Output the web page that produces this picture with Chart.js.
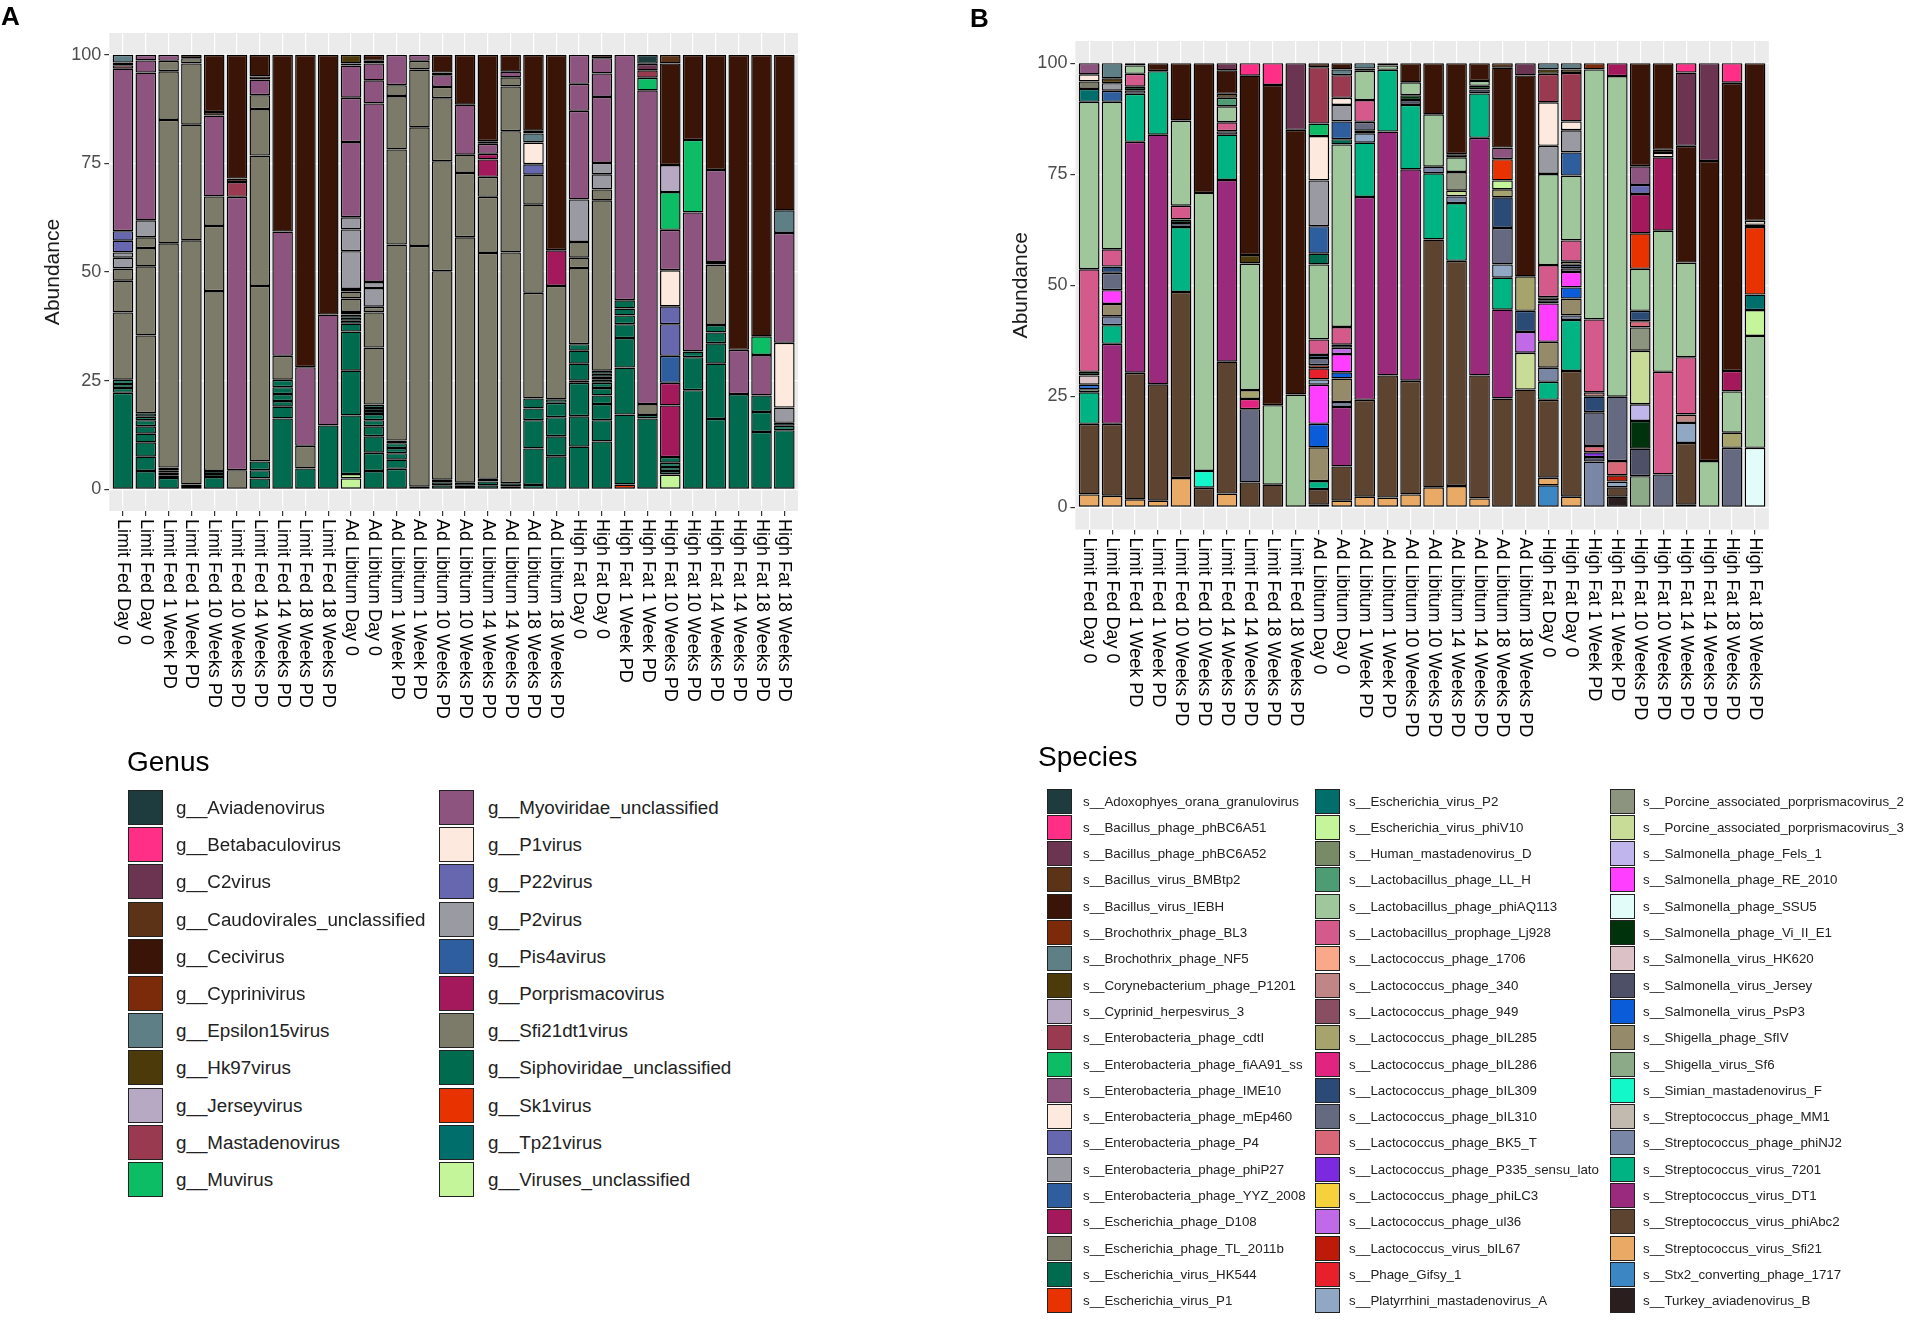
<!DOCTYPE html>
<html>
<head>
<meta charset="utf-8">
<script src="https://cdn.jsdelivr.net/npm/chart.js@4.4.1/dist/chart.umd.min.js"></script>
<style>
  body { margin: 0; background: #fff; width: 1908px; height: 1320px; position: relative; overflow: hidden;
         font-family: "Liberation Sans", Arial, Helvetica, sans-serif; }
  canvas { position: absolute; top: 0; }
  #chartA { left: 0; }
  #chartB { left: 960px; }
  .tag { position: absolute; font-weight: bold; font-size: 26px; line-height: 1; color: #000; }
  .ltitle { position: absolute; font-size: 28px; line-height: 1; color: #000; }
  .key { position: absolute; box-sizing: border-box; border: 1.6px solid #222; }
  .lab { position: absolute; color: #222; white-space: nowrap; }
</style>
</head>
<body>
<canvas id="chartA" width="960" height="760"></canvas>
<canvas id="chartB" width="948" height="760"></canvas>
<div class="tag" style="left:1px;top:3px">A</div>
<div class="tag" style="left:970px;top:5px">B</div>
<div class="ltitle" style="left:127px;top:748px">Genus</div>
<div class="ltitle" style="left:1038px;top:743px">Species</div>
<div id="legendA"></div>
<div id="legendB"></div>
<script>
// x categories (same for both panels) and y ticks
const categories = [
  "Limit Fed Day 0", "Limit Fed Day 0", "Limit Fed 1 Week PD", "Limit Fed 1 Week PD",
  "Limit Fed 10 Weeks PD", "Limit Fed 10 Weeks PD", "Limit Fed 14 Weeks PD", "Limit Fed 14 Weeks PD",
  "Limit Fed 18 Weeks PD", "Limit Fed 18 Weeks PD",
  "Ad Libitum Day 0", "Ad Libitum Day 0", "Ad Libitum 1 Week PD", "Ad Libitum 1 Week PD",
  "Ad Libitum 10 Weeks PD", "Ad Libitum 10 Weeks PD", "Ad Libitum 14 Weeks PD", "Ad Libitum 14 Weeks PD",
  "Ad Libitum 18 Weeks PD", "Ad Libitum 18 Weeks PD",
  "High Fat Day 0", "High Fat Day 0", "High Fat 1 Week PD", "High Fat 1 Week PD",
  "High Fat 10 Weeks PD", "High Fat 10 Weeks PD", "High Fat 14 Weeks PD", "High Fat 14 Weeks PD",
  "High Fat 18 Weeks PD", "High Fat 18 Weeks PD"
];
const yTicks = [0, 25, 50, 75, 100];

// shared palette, legend order (first entry = top of each stack)
const palette = [
  "#1E3B3E", "#FF2E87", "#6B3552", "#5B3317", "#3A1406", "#7B2A0A", "#5E7F86", "#4C3A0A", "#B7A9C3", "#9A3A50",
  "#0DBD66", "#8C547E", "#FDE9DD", "#6667AF", "#9A9AA2", "#2E5E9E", "#A4195C", "#7C7B6A", "#006B4F", "#E83200",
  "#006E6B", "#C4F59A", "#788A66", "#4E9C74", "#A0C69C", "#D45A8C", "#F9A88A", "#C08585", "#8A4E62", "#A6A46C",
  "#E0247F", "#2C4A76", "#666A80", "#D86878", "#7B2AE0", "#F5D23C", "#C06AE8", "#BE1A0A", "#E8202C", "#90A8C4",
  "#8C9480", "#C8DC98", "#C0B6EC", "#FF3EFF", "#E2FCFA", "#00330C", "#DCC2C6", "#4D5066", "#0B5CD8", "#958A6A",
  "#8CAA88", "#12F8C8", "#C2BAAE", "#7A86A6", "#00B383", "#9A2A7C", "#5C4430", "#E8AA64", "#3D86C4", "#2B1E1E"
];

const genusNames = [
  "g__Aviadenovirus", "g__Betabaculovirus", "g__C2virus", "g__Caudovirales_unclassified", "g__Cecivirus",
  "g__Cyprinivirus", "g__Epsilon15virus", "g__Hk97virus", "g__Jerseyvirus", "g__Mastadenovirus", "g__Muvirus",
  "g__Myoviridae_unclassified", "g__P1virus", "g__P22virus", "g__P2virus", "g__Pis4avirus", "g__Porprismacovirus",
  "g__Sfi21dt1virus", "g__Siphoviridae_unclassified", "g__Sk1virus", "g__Tp21virus", "g__Viruses_unclassified"
];
const genusCodes = ["Avia", "Beta", "C2", "Caudo", "Ceci", "Cypr", "Eps15", "Hk97", "Jers", "Masta", "Mu",
  "Myo", "P1", "P22", "P2", "Pis4a", "Porp", "Sfi21", "Sipho", "Sk1", "Tp21", "VirUnc"];

const speciesNames = [
  "s__Adoxophyes_orana_granulovirus", "s__Bacillus_phage_phBC6A51", "s__Bacillus_phage_phBC6A52", "s__Bacillus_virus_BMBtp2",
  "s__Bacillus_virus_IEBH", "s__Brochothrix_phage_BL3", "s__Brochothrix_phage_NF5", "s__Corynebacterium_phage_P1201",
  "s__Cyprinid_herpesvirus_3", "s__Enterobacteria_phage_cdtI", "s__Enterobacteria_phage_fiAA91_ss", "s__Enterobacteria_phage_IME10",
  "s__Enterobacteria_phage_mEp460", "s__Enterobacteria_phage_P4", "s__Enterobacteria_phage_phiP27", "s__Enterobacteria_phage_YYZ_2008",
  "s__Escherichia_phage_D108", "s__Escherichia_phage_TL_2011b", "s__Escherichia_virus_HK544", "s__Escherichia_virus_P1",
  "s__Escherichia_virus_P2", "s__Escherichia_virus_phiV10", "s__Human_mastadenovirus_D", "s__Lactobacillus_phage_LL_H",
  "s__Lactobacillus_phage_phiAQ113", "s__Lactobacillus_prophage_Lj928", "s__Lactococcus_phage_1706", "s__Lactococcus_phage_340",
  "s__Lactococcus_phage_949", "s__Lactococcus_phage_bIL285", "s__Lactococcus_phage_bIL286", "s__Lactococcus_phage_bIL309",
  "s__Lactococcus_phage_bIL310", "s__Lactococcus_phage_BK5_T", "s__Lactococcus_phage_P335_sensu_lato", "s__Lactococcus_phage_phiLC3",
  "s__Lactococcus_phage_ul36", "s__Lactococcus_virus_bIL67", "s__Phage_Gifsy_1", "s__Platyrrhini_mastadenovirus_A",
  "s__Porcine_associated_porprismacovirus_2", "s__Porcine_associated_porprismacovirus_3", "s__Salmonella_phage_Fels_1", "s__Salmonella_phage_RE_2010",
  "s__Salmonella_phage_SSU5", "s__Salmonella_phage_Vi_II_E1", "s__Salmonella_virus_HK620", "s__Salmonella_virus_Jersey",
  "s__Salmonella_virus_PsP3", "s__Shigella_phage_SfIV", "s__Shigella_virus_Sf6", "s__Simian_mastadenovirus_F",
  "s__Streptococcus_phage_MM1", "s__Streptococcus_phage_phiNJ2", "s__Streptococcus_virus_7201", "s__Streptococcus_virus_DT1",
  "s__Streptococcus_virus_phiAbc2", "s__Streptococcus_virus_Sfi21", "s__Stx2_converting_phage_1717", "s__Turkey_aviadenovirus_B"
];
const speciesCodes = ["Adox", "phBC6A51", "phBC6A52", "BMBtp2", "IEBH", "BL3", "NF5", "P1201", "CyHV3", "cdtI",
  "fiAA91", "IME10", "mEp460", "P4", "phiP27", "YYZ", "D108", "TL2011b", "HK544", "EcP1",
  "EcP2", "phiV10", "HAdvD", "LLH", "phiAQ113", "Lj928", "L1706", "L340", "L949", "bIL285",
  "bIL286", "bIL309", "bIL310", "BK5T", "P335", "phiLC3", "ul36", "bIL67", "Gifsy1", "PlatA",
  "PoAP2", "PoAP3", "Fels1", "RE2010", "SSU5", "ViIIE1", "HK620", "Jersey", "PsP3", "SfIV",
  "Sf6", "SimF", "MM1", "phiNJ2", "S7201", "DT1", "phiAbc2", "Sfi21", "Stx2", "TurkB"];

// Panel A: per sample, genus -> segment values (bottom to top)
const a01 = [["Sipho", 22.2, 1.1, 0.9, 1.0], ["Sfi21", 15.5, 7.3, 2.8], ["P2", 2.5, 1.2], ["P22", 2.7, 2.2], ["Myo", 37.4], ["Masta", 0.8], ["Hk97", 0.6], ["Eps15", 1.8]];
const a02 = [["Sipho", 4.2, 3.3, 3.3, 2.0, 1.7, 1.4, 0.8, 0.8], ["Sfi21", 17.9, 15.9, 4.2, 2.5], ["P2", 3.9], ["Myo", 34.0, 2.8, 1.3]];
const a03 = [["Sipho", 2.6, 0.6, 0.6, 0.6, 0.6], ["Sfi21", 51.6, 28.4, 11.2, 2.4], ["Myo", 1.4]];
const a04 = [["Sipho", 0.5, 0.6], ["Sfi21", 56.2, 26.6, 14.1, 1.2], ["Ceci", 0.8]];
const a05 = [["Sipho", 2.8, 0.7, 0.7], ["Sfi21", 41.4, 15.0, 6.8], ["Myo", 18.6], ["Ceci", 0.8, 13.2]];
const a06 = [["Sfi21", 4.4], ["Myo", 62.9], ["Masta", 3.4], ["Ceci", 0.8, 28.5]];
const a07 = [["Sipho", 2.5, 1.9, 2.0], ["Sfi21", 40.4, 30.0, 10.7, 3.2], ["Myo", 3.6], ["Ceci", 0.7, 5.0]];
const a08 = [["Sipho", 16.3, 2.7, 1.3, 1.6, 1.6, 1.7], ["Sfi21", 5.5], ["Myo", 28.6], ["Ceci", 40.7]];
const a09 = [["Sipho", 4.8], ["Sfi21", 5.2], ["Myo", 18.1], ["Ceci", 71.9]];
const a10 = [["Sipho", 14.7], ["Myo", 25.5], ["Ceci", 59.8]];
const a11 = [["VirUnc", 2.5, 1.0], ["Sipho", 13.5, 10.3, 9.0, 1.8, 0.7, 0.7, 0.7, 0.6], ["Sfi21", 3.1, 1.6, 0.6], ["P2", 8.7, 5.0, 2.8], ["Myo", 17.3, 10.2, 7.4], ["Hk97", 0.5, 2.0]];
const a12 = [["Sipho", 4.2, 4.2, 3.8, 2.3, 1.4, 1.4, 0.7, 0.7, 0.8], ["Sfi21", 13.1, 8.1, 1.3], ["P2", 4.3, 1.4], ["Myo", 41.1, 5.3, 3.9], ["Ceci", 0.6, 1.4]];
const a13 = [["Sipho", 4.7, 2.1, 1.5, 1.2, 1.1, 0.6], ["Sfi21", 45.1, 21.9, 12.3, 2.5], ["Myo", 7.0]];
const a14 = [["Sipho", 0.6], ["Sfi21", 55.4, 27.3, 13.3, 2.0], ["Myo", 1.4]];
const a15 = [["Sipho", 0.9, 0.7, 0.6], ["Sfi21", 48.0, 25.3, 14.5, 2.6], ["Myo", 2.7], ["Ceci", 0.6, 4.1]];
const a16 = [["Sipho", 0.8, 0.7], ["Sfi21", 56.5, 14.8, 4.2], ["Myo", 11.5], ["Ceci", 11.5]];
const a17 = [["Sipho", 0.9, 0.9, 0.6], ["Sfi21", 52.0, 12.9, 4.6], ["Porp", 4.0, 1.3], ["Myo", 2.3], ["Ceci", 0.6, 19.9]];
const a18 = [["Sipho", 0.7, 0.7], ["Sfi21", 53.1, 27.9, 10.3, 2.1], ["Myo", 1.3], ["Ceci", 3.9]];
const a19 = [["Sipho", 1.0, 8.4, 6.5, 2.7, 2.3], ["Sfi21", 24.3, 20.3, 6.9], ["P22", 2.4], ["P1", 5.0], ["Eps15", 2.1], ["Ceci", 0.6, 17.5]];
const a20 = [["Sipho", 7.6, 4.6, 4.4, 3.3, 0.8], ["Sfi21", 26.1], ["Porp", 8.2], ["Ceci", 45.0]];
const a21 = [["Sipho", 9.8, 7.0, 7.7, 0.5, 3.9, 3.0, 1.5], ["Sfi21", 17.5, 2.4, 3.6], ["P2", 9.8], ["Myo", 20.4, 6.2, 6.7]];
const a22 = [["Sipho", 11.0, 4.9, 3.7, 2.0, 1.7, 1.2, 0.7, 0.7, 0.7, 0.7], ["Sfi21", 39.2, 2.5], ["P2", 3.5, 2.6], ["Myo", 15.2, 5.4, 3.5], ["Ceci", 0.8]];
const a23 = [["Sk1", 1.1], ["Sipho", 16.1, 10.8, 6.8, 3.2, 2.0, 1.6, 1.9], ["Myo", 56.5]];
const a24 = [["Sipho", 16.3, 0.8], ["Sfi21", 2.5], ["Myo", 72.2], ["Mu", 2.9], ["Masta", 1.7], ["C2", 1.5], ["Avia", 2.1]];
const a25 = [["VirUnc", 3.4], ["Sipho", 0.8, 0.9, 1.0, 1.3], ["Porp", 11.9, 5.2], ["Pis4a", 6.2], ["P22", 7.3, 4.1], ["P1", 8.3], ["Myo", 9.3], ["Mu", 8.7], ["Jers", 6.2], ["Ceci", 23.4], ["Caudo", 2.0]];
const a26 = [["Sipho", 22.8, 7.6, 1.3], ["Myo", 32.0], ["Mu", 16.7], ["Ceci", 19.6]];
const a27 = [["Sipho", 16.2, 12.7, 4.7, 2.5, 1.7], ["Sfi21", 13.9, 0.6], ["Myo", 21.2], ["Ceci", 26.5]];
const a28 = [["Sipho", 21.9], ["Myo", 10.2], ["Ceci", 67.9]];
const a29 = [["Sipho", 13.2, 4.6, 3.8], ["Myo", 9.3], ["Mu", 4.3], ["Ceci", 64.8]];
const a30 = [["Sipho", 13.6, 1.0, 0.7], ["P2", 3.5], ["P1", 14.9], ["Myo", 25.3], ["Eps15", 5.2], ["Ceci", 35.8]];

// Panel B: per sample, species -> value
const b01 = [["Sfi21", 2.9], ["phiAbc2", 15.9], ["S7201", 7.1], ["Sf6", 0.7], ["PsP3", 1.0], ["HK620", 2.1], ["ViIIE1", 0.8], ["Lj928", 23.1], ["phiAQ113", 37.7], ["EcP2", 2.9], ["TL2011b", 1.7], ["mEp460", 1.6], ["IME10", 2.5]];
const b02 = [["Sfi21", 2.6], ["phiAbc2", 16.2], ["DT1", 18.0], ["S7201", 4.2], ["phiNJ2", 2.0], ["SfIV", 2.8], ["RE2010", 3.1], ["bIL310", 3.9], ["bIL309", 1.4], ["Lj928", 3.9], ["phiAQ113", 33.2], ["YYZ", 2.5], ["phiP27", 1.7], ["P1201", 1.1], ["NF5", 3.4]];
const b03 = [["Sfi21", 1.8], ["phiAbc2", 28.5], ["DT1", 52.0], ["S7201", 10.8], ["Jersey", 0.8], ["ViIIE1", 0.8], ["Lj928", 2.9], ["phiAQ113", 1.9], ["IEBH", 0.5]];
const b04 = [["Sfi21", 1.5], ["phiAbc2", 26.2], ["DT1", 56.2], ["S7201", 14.3], ["IEBH", 1.8]];
const b05 = [["Sfi21", 6.6], ["phiAbc2", 41.9], ["S7201", 14.6], ["Jersey", 0.9], ["ViIIE1", 0.8], ["Lj928", 3.1], ["phiAQ113", 19.2], ["IEBH", 12.9]];
const b06 = [["phiAbc2", 4.4], ["SimF", 3.8], ["phiAQ113", 62.6], ["IEBH", 29.2]];
const b07 = [["Sfi21", 3.1], ["phiAbc2", 29.7], ["DT1", 40.9], ["S7201", 10.2], ["Jersey", 0.8], ["Lj928", 2.0], ["phiAQ113", 3.6], ["LLH", 1.9], ["P1201", 0.9], ["IEBH", 5.3], ["phBC6A52", 1.6]];
const b08 = [["phiAbc2", 5.6], ["bIL310", 16.5], ["bIL286", 2.3], ["bIL285", 2.0], ["phiAQ113", 28.5], ["P1201", 1.9], ["IEBH", 40.4], ["phBC6A51", 2.8]];
const b09 = [["phiAbc2", 5.1], ["phiAQ113", 17.9], ["IEBH", 72.1], ["phBC6A51", 4.9]];
const b10 = [["phiAQ113", 25.4], ["IEBH", 59.6], ["phBC6A52", 15.0]];
const b11 = [["TurkB", 0.6], ["phiAbc2", 3.5], ["S7201", 1.8], ["SfIV", 7.6], ["PsP3", 5.3], ["RE2010", 8.8], ["PlatA", 1.2], ["Gifsy1", 2.5], ["bIL67", 0.7], ["bIL310", 1.6], ["bIL309", 0.7], ["Lj928", 3.5], ["phiAQ113", 16.9], ["HK544", 2.4], ["YYZ", 6.2], ["phiP27", 10.3], ["mEp460", 10.0], ["fiAA91", 2.8], ["cdtI", 12.7], ["IEBH", 0.9]];
const b12 = [["Sfi21", 1.5], ["phiAbc2", 7.7], ["DT1", 13.4], ["phiNJ2", 1.1], ["SfIV", 5.3], ["PsP3", 1.4], ["RE2010", 4.1], ["ul36", 1.4], ["bIL309", 0.7], ["Lj928", 4.0], ["phiAQ113", 41.1], ["HK544", 1.2], ["YYZ", 4.0], ["phiP27", 3.7], ["mEp460", 1.6], ["cdtI", 5.1], ["NF5", 1.3], ["IEBH", 1.4]];
const b13 = [["Sfi21", 2.4], ["phiAbc2", 21.8], ["DT1", 45.7], ["S7201", 12.2], ["PlatA", 2.1], ["phiLC3", 0.6], ["bIL310", 2.0], ["Lj928", 4.9], ["phiAQ113", 6.6], ["P1201", 0.5], ["NF5", 1.2]];
const b14 = [["Sfi21", 2.2], ["phiAbc2", 27.5], ["DT1", 54.9], ["S7201", 13.9], ["phiAQ113", 1.0], ["IEBH", 0.5]];
const b15 = [["Sfi21", 2.9], ["phiAbc2", 25.6], ["DT1", 47.6], ["S7201", 14.5], ["Jersey", 1.1], ["ViIIE1", 1.1], ["phiAQ113", 2.9], ["IEBH", 4.3]];
const b16 = [["Sfi21", 4.5], ["phiAbc2", 55.8], ["S7201", 14.9], ["phiNJ2", 1.5], ["phiAQ113", 11.8], ["IEBH", 11.5]];
const b17 = [["Sfi21", 4.8], ["phiAbc2", 50.7], ["S7201", 13.0], ["phiNJ2", 1.5], ["PoAP3", 1.3], ["PoAP2", 4.2], ["phiAQ113", 3.3], ["P1201", 0.7], ["IEBH", 20.5]];
const b18 = [["Sfi21", 2.0], ["phiAbc2", 27.7], ["DT1", 53.5], ["S7201", 10.0], ["Jersey", 0.9], ["ViIIE1", 0.8], ["phiAQ113", 1.1], ["IEBH", 4.0]];
const b19 = [["phiAbc2", 24.5], ["DT1", 20.0], ["S7201", 7.2], ["PlatA", 3.0], ["bIL310", 8.2], ["bIL309", 6.9], ["bIL285", 1.8], ["phiV10", 2.0], ["EcP1", 4.8], ["IME10", 2.6], ["IEBH", 18.0], ["BMBtp2", 1.0]];
const b20 = [["phiAbc2", 26.5], ["PoAP3", 8.3], ["ul36", 4.7], ["bIL309", 4.75], ["bIL285", 7.75], ["IEBH", 45.25], ["phBC6A52", 2.75]];
const b21 = [["Stx2", 4.95], ["Sfi21", 1.7], ["phiAbc2", 17.55], ["S7201", 4.05], ["phiNJ2", 3.2], ["SfIV", 5.8], ["RE2010", 8.65], ["bIL309", 0.7], ["bIL285", 0.7], ["Lj928", 7.25], ["phiAQ113", 20.5], ["phiP27", 6.35], ["mEp460", 9.8], ["cdtI", 6.4], ["P1201", 1.0], ["NF5", 1.4]];
const b22 = [["Sfi21", 2.4], ["phiAbc2", 28.3], ["S7201", 11.5], ["phiNJ2", 1.0], ["SfIV", 3.8], ["PsP3", 2.5], ["RE2010", 3.5], ["bIL310", 0.8], ["bIL309", 0.8], ["bIL285", 0.7], ["Lj928", 4.8], ["phiAQ113", 14.6], ["YYZ", 5.2], ["phiP27", 5.0], ["mEp460", 2.0], ["cdtI", 10.9], ["P1201", 0.8], ["NF5", 1.4]];
const b23 = [["phiNJ2", 10.3], ["Jersey", 1.0], ["P335", 1.1], ["BK5T", 1.4], ["bIL310", 7.6], ["bIL309", 3.5], ["L340", 1.0], ["Lj928", 16.4], ["phiAQ113", 56.3], ["BL3", 1.4]];
const b24 = [["TurkB", 2.4], ["phiAbc2", 2.1], ["PlatA", 1.3], ["bIL67", 1.4], ["BK5T", 3.2], ["bIL310", 14.5], ["phiAQ113", 72.2], ["D108", 2.9]];
const b25 = [["Sf6", 7.0], ["Jersey", 6.2], ["ViIIE1", 6.25], ["Fels1", 3.75], ["PoAP3", 12.05], ["PoAP2", 5.25], ["BK5T", 1.4], ["bIL309", 2.35], ["phiAQ113", 9.45], ["EcP1", 8.0], ["D108", 8.85], ["P4", 2.05], ["IME10", 4.2], ["IEBH", 23.2]];
const b26 = [["bIL310", 7.4], ["Lj928", 23.1], ["phiAQ113", 31.8], ["D108", 16.5], ["mEp460", 1.0], ["P1201", 0.7], ["IEBH", 19.5]];
const b27 = [["Sfi21", 0.6], ["phiAbc2", 13.9], ["PlatA", 4.5], ["L340", 1.9], ["Lj928", 12.9], ["phiAQ113", 21.3], ["IEBH", 26.3], ["phBC6A52", 16.5], ["phBC6A51", 2.1]];
const b28 = [["phiAQ113", 10.4], ["IEBH", 67.6], ["phBC6A52", 22.0]];
const b29 = [["bIL310", 13.4], ["bIL285", 3.4], ["phiAQ113", 9.3], ["D108", 4.6], ["IEBH", 64.9], ["phBC6A51", 4.4]];
const b30 = [["SSU5", 13.4], ["phiAQ113", 25.2], ["phiV10", 5.8], ["EcP2", 3.5], ["EcP1", 15.2], ["HK544", 0.5], ["mEp460", 0.9], ["IEBH", 35.5]];

const samplesA = [a01, a02, a03, a04, a05, a06, a07, a08, a09, a10, a11, a12, a13, a14, a15,
  a16, a17, a18, a19, a20, a21, a22, a23, a24, a25, a26, a27, a28, a29, a30];
const samplesB = [b01, b02, b03, b04, b05, b06, b07, b08, b09, b10, b11, b12, b13, b14, b15,
  b16, b17, b18, b19, b20, b21, b22, b23, b24, b25, b26, b27, b28, b29, b30];

Chart.defaults.font.family = '"Liberation Sans", Arial, Helvetica, sans-serif';

// one dataset per (taxon, segment number); the last legend entry is stacked first (bottom)
function buildDatasets(samples, codes, colors) {
  const sets = [];
  for (let g = codes.length - 1; g >= 0; g--) {
    const rows = samples.map(s => (s.find(r => r[0] === codes[g]) || [codes[g]]).slice(1));
    const depth = Math.max(...rows.map(r => r.length));
    for (let k = 0; k < depth; k++) {
      const data = [];
      rows.forEach((r, i) => { if (r[k] != null) data.push({ x: i, y: r[k] }); });
      sets.push({ label: codes[g], data, backgroundColor: colors[g] });
    }
  }
  return sets;
}

const panelBg = {
  id: "panelBg",
  beforeDraw(chart) {
    const { ctx, chartArea: a } = chart;
    ctx.save();
    ctx.fillStyle = "#EBEBEB";
    ctx.fillRect(a.left, a.top, a.width, a.height);
    ctx.restore();
  }
};

// x labels rotated so they read top to bottom, starting under the tick
const xLabels = {
  id: "xLabels",
  afterDraw(chart) {
    const { ctx, chartArea: a } = chart;
    const xs = chart.scales.x;
    ctx.save();
    ctx.font = '18px "Liberation Sans", Arial, sans-serif';
    ctx.fillStyle = "#000";
    ctx.textAlign = "left";
    ctx.textBaseline = "middle";
    categories.forEach((c, i) => {
      ctx.save();
      ctx.translate(xs.getPixelForValue(i), a.bottom + 8);
      ctx.rotate(Math.PI / 2);
      ctx.fillText(c, 0, 0);
      ctx.restore();
    });
    ctx.restore();
  }
};

function makeChart(id, datasets, g) {
  return new Chart(document.getElementById(id), {
    type: "bar",
    data: { datasets },
    options: {
      responsive: false,
      animation: false,
      layout: { padding: { left: 0, top: g.top, right: g.right, bottom: g.bottom } },
      datasets: {
        bar: { borderColor: "#000", borderWidth: 1.4, borderSkipped: false, barPercentage: 0.9, categoryPercentage: 1 }
      },
      plugins: { legend: { display: false }, tooltip: { enabled: false } },
      scales: {
        x: {
          type: "linear", stacked: true, min: -0.6, max: categories.length - 0.4, offset: false,
          afterBuildTicks: s => { s.ticks = categories.map((c, i) => ({ value: i })); },
          afterFit: s => { s.height = 6; },
          ticks: { display: false },
          grid: { color: "#FFFFFF", lineWidth: 1.2, offset: false, tickLength: 5, tickColor: "#333333", tickWidth: 1.2 },
          border: { display: false }
        },
        y: {
          type: "linear", stacked: true, min: -5, max: 105,
          afterBuildTicks: s => { s.ticks = yTicks.map(v => ({ value: v })); },
          afterFit: s => { s.width = g.yWidth; },
          ticks: { color: "#4D4D4D", font: { size: 18 }, padding: 3 },
          grid: { color: "#FFFFFF", lineWidth: 1.2, tickLength: 5, tickColor: "#333333", tickWidth: 1.2 },
          border: { display: false },
          title: { display: true, text: "Abundance", color: "#1A1A1A", font: { size: 21 }, padding: { top: g.titlePad, bottom: 0 } }
        }
      }
    },
    plugins: [panelBg, xLabels]
  });
}

makeChart("chartA", buildDatasets(samplesA, genusCodes, palette),
  { top: 33, right: 162, bottom: 243, yWidth: 109.3, titlePad: 40.4 });
makeChart("chartB", buildDatasets(samplesB, speciesCodes, palette),
  { top: 41, right: 139.2, bottom: 224.5, yWidth: 115.4, titlePad: 48.4 });

// legends
function buildLegend(holderId, names, colors, cfg) {
  const holder = document.getElementById(holderId);
  names.forEach((name, i) => {
    const col = Math.floor(i / cfg.perCol);
    const row = i % cfg.perCol;
    const top = cfg.top + row * cfg.pitch;
    const key = document.createElement("div");
    key.className = "key";
    key.style.cssText = `left:${cfg.keyX[col]}px;top:${top}px;width:${cfg.keyW}px;height:${cfg.keyH}px;background:${colors[i]};border-width:${cfg.bw}px`;
    holder.appendChild(key);
    const lab = document.createElement("div");
    lab.className = "lab";
    lab.textContent = name;
    lab.style.cssText = `left:${cfg.labX[col]}px;top:${top}px;height:${cfg.keyH}px;line-height:${cfg.keyH}px;font-size:${cfg.font}px`;
    holder.appendChild(lab);
  });
}

buildLegend("legendA", genusNames, palette,
  { perCol: 11, top: 790, pitch: 37.2, keyW: 35, keyH: 35, bw: 1.6, keyX: [128, 439], labX: [176, 488], font: 18.8 });
buildLegend("legendB", speciesNames, palette,
  { perCol: 20, top: 788.5, pitch: 26.3, keyW: 25, keyH: 25, bw: 1.3, keyX: [1047, 1315, 1610], labX: [1083, 1349, 1643], font: 13.3 });
</script>
</body>
</html>
